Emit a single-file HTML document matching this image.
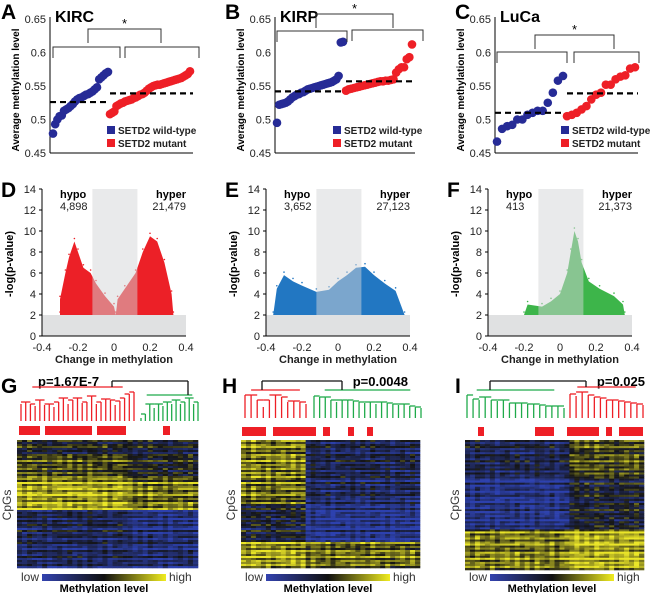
<!DOCTYPE html>
<html><head><meta charset="utf-8"><style>
html,body{margin:0;padding:0;background:#fff;}
svg{display:block;font-family:"Liberation Sans",Arial,sans-serif;}
</style></head><body>
<svg id="fig" width="650" height="593" viewBox="0 0 650 593"></svg>
<script>
// ---------- DATA ----------
const aBlue=[0.479,0.493,0.5,0.505,0.506,0.513,0.515,0.517,0.52,0.523,0.527,0.53,0.532,0.533,0.535,0.537,0.538,0.54,0.542,0.545,0.548,0.56,0.563,0.566,0.569,0.571];
const aRed=[0.508,0.51,0.512,0.52,0.522,0.524,0.525,0.527,0.528,0.529,0.53,0.532,0.533,0.535,0.537,0.538,0.54,0.543,0.546,0.548,0.55,0.551,0.552,0.552,0.553,0.554,0.555,0.556,0.557,0.558,0.559,0.56,0.561,0.562,0.564,0.566,0.568,0.572];
const bBlue=[0.495,0.522,0.523,0.524,0.525,0.527,0.53,0.533,0.535,0.537,0.538,0.54,0.541,0.543,0.545,0.546,0.547,0.548,0.549,0.55,0.551,0.552,0.553,0.554,0.555,0.556,0.558,0.56,0.565,0.615,0.616];
const bRed=[0.543,0.545,0.546,0.547,0.548,0.549,0.55,0.551,0.552,0.553,0.554,0.555,0.556,0.557,0.557,0.558,0.558,0.559,0.56,0.57,0.575,0.578,0.578,0.59,0.593,0.612];
const cBlue=[0.467,0.486,0.49,0.492,0.5,0.5,0.507,0.51,0.513,0.513,0.525,0.54,0.558,0.565];
const cRed=[0.505,0.507,0.51,0.515,0.52,0.53,0.537,0.54,0.552,0.552,0.56,0.564,0.566,0.576,0.578];
const meansA=[0.526,0.539], meansB=[0.542,0.557], meansC=[0.51,0.539];
const yTicks=[0.45,0.5,0.55,0.6,0.65];
const yTickLabels=["0.45","0.5","0.55","0.6","0.65"];
// volcano envelopes: [change, -log p] pairs (top outline of point cloud)
const volD=[[-0.3,2],[-0.3,3.5],[-0.27,6],[-0.25,7.5],[-0.22,9],[-0.2,8],[-0.17,6.5],[-0.13,6],[-0.1,5],[-0.05,3.8],[0,2.8],[0.01,2],[0.02,3.5],[0.06,4.5],[0.12,6],[0.16,8],[0.2,9.5],[0.24,9],[0.28,7],[0.32,4],[0.33,2]];
const volE=[[-0.36,2],[-0.34,4.5],[-0.3,5.8],[-0.25,5.2],[-0.2,4.8],[-0.12,4.2],[-0.05,4.4],[0,5.2],[0.05,5.8],[0.1,6.5],[0.15,6.6],[0.2,5.8],[0.26,5],[0.32,4.3],[0.37,2]];
const volF=[[-0.2,2],[-0.18,3],[-0.1,2.8],[-0.05,3.3],[0,4],[0.04,6],[0.06,8],[0.08,10],[0.1,9],[0.12,7],[0.16,5.2],[0.22,4.5],[0.3,3.8],[0.35,3],[0.36,2]];
const volXTicks=[-0.4,-0.2,0,0.2,0.4], volXLabels=["-0.4","-0.2","0","0.2","0.4"];
const volYTicks=[0,2,4,6,8,10,12,14];
const hypoCounts=["4,898","3,652","413"], hyperCounts=["21,479","27,123","21,373"];
// heatmap band levels: [rowFracEnd, leftLevel, rightLevel]
const hmG=[[0.12,0.45,0.4],[0.3,0.6,0.45],[0.55,0.82,0.7],[0.75,0.3,0.15],[1,0.25,0.2]];
const hmH=[[0.3,0.72,0.3],[0.5,0.68,0.25],[0.8,0.38,0.1],[1,0.8,0.68]];
const hmI=[[0.28,0.3,0.6],[0.68,0.12,0.4],[1,0.72,0.85]];
const rowMod=[0.1,-0.12,0.05,0.15,-0.08,0,-0.15,0.12,0.02,-0.05,0.18,-0.1,0.06,-0.02,0.1,-0.14,0.08,-0.06,0.14,-0.03,-0.18,0.2,-0.09,0.03];
const colMod=[0.04,-0.06,0.08,0,-0.04,0.06,-0.08,0.02,0.05,-0.03,0.07,-0.05];

// ---------- HELPERS ----------
const S=document.getElementById('fig'), NS='http://www.w3.org/2000/svg';
function mk(tag,attrs,parent){const e=document.createElementNS(NS,tag);for(const k in attrs)e.setAttribute(k,attrs[k]);(parent||S).appendChild(e);return e;}
function txt(x,y,s,attrs,parent){const e=mk('text',Object.assign({x:x,y:y},attrs||{}),parent);e.textContent=s;return e;}

// ---------- SCATTER PANELS A-C ----------
function scatterPanel(o){
  const g=mk('g',{});
  
  
  const yS=v=>153-(v-0.45)/0.2*134;
  txt(o.letX,19,o.letter,{'font-size':21,'font-weight':'bold'},g);
  txt(o.ax+5,22,o.title,{'font-size':16,'font-weight':'bold'},g);
  mk('line',{x1:o.ax,y1:17,x2:o.ax,y2:153,stroke:'#000','stroke-width':1},g);
  mk('line',{x1:o.ax,y1:153,x2:o.ax+o.w,y2:153,stroke:'#000','stroke-width':1},g);
  yTicks.forEach((t,i)=>txt(o.ax-4,yS(t)+4,yTickLabels[i],{'font-size':11,'text-anchor':'end',fill:'#222'},g));
  const yl=txt(0,0,'Average methylation level',{'font-size':10,'font-weight':'bold','text-anchor':'middle',transform:`translate(${o.ax-31},90) rotate(-90)`},g);
  
  
  const drawSeries=(arr,x0,x1,col,nm)=>arr.forEach((v,i)=>{
    const c=mk('circle',{cx:x0+(x1-x0)*i/(arr.length-1),cy:yS(v),r:4.3,fill:col},g);
    
    
  });
  drawSeries(o.blue,o.bx0,o.bx1,'#262b96','wild-type-point');
  drawSeries(o.red,o.rx0,o.rx1,'#ee1f26','mutant-point');
  const m1=mk('line',{x1:o.ax,x2:o.bx1+2,y1:yS(o.means[0]),y2:yS(o.means[0]),stroke:'#000','stroke-width':2.2,'stroke-dasharray':'6,4'},g);
  
  
  const m2=mk('line',{x1:o.rx0,x2:o.ax+o.w,y1:yS(o.means[1]),y2:yS(o.means[1]),stroke:'#000','stroke-width':2.2,'stroke-dasharray':'6,4'},g);
  
  
  const br=(x0,x1,y,d)=>mk('path',{d:`M${x0},${y+d}V${y}H${x1}V${y+d}`,fill:'none',stroke:'#333','stroke-width':1},g);
  br(o.L[0],o.L[1],o.L[2],11); br(o.R[0],o.R[1],o.R[2],11); br(o.T[0],o.T[1],o.T[2],14);
  txt((o.T[0]+o.T[1])/2,o.T[2]-1,'*',{'font-size':13,'text-anchor':'middle'},g);
  const lg=mk('g',{},g);
  
  
  mk('rect',{x:o.lx,y:o.ly-4,width:8,height:8,fill:'#262b96'},lg);
  txt(o.lx+11,o.ly+4,'SETD2 wild-type',{'font-size':10,'font-weight':'bold',fill:'#222'},lg);
  mk('rect',{x:o.lx,y:o.ly+9,width:8,height:8,fill:'#ee1f26'},lg);
  txt(o.lx+11,o.ly+17,'SETD2 mutant',{'font-size':10,'font-weight':'bold',fill:'#222'},lg);
}
scatterPanel({name:'panel-a-kirc',letter:'A',letX:1,title:'KIRC',ax:50,w:143,blue:aBlue,red:aRed,bx0:53,bx1:108,rx0:110,rx1:190,means:meansA,L:[53,120,47],R:[125,199,47],T:[88,161,29],lx:107,ly:130});
scatterPanel({name:'panel-b-kirp',letter:'B',letX:225,title:'KIRP',ax:275,w:140,blue:bBlue,red:bRed,bx0:277,bx1:343,rx0:346,rx1:412,means:meansB,L:[277,347,31],R:[352,423,30],T:[316,393,14],lx:333,ly:130});
scatterPanel({name:'panel-c-luca',letter:'C',letX:455,title:'LuCa',ax:495,w:143,blue:cBlue,red:cRed,bx0:497,bx1:563,rx0:567,rx1:635,means:meansC,L:[497,567,52],R:[574,639,52],T:[535,614,35],lx:561,ly:130});

// ---------- VOLCANO PANELS D-F ----------
function volcano(o){
  const g=mk('g',{});
  
  
  const xS=v=>o.ax+(v+0.4)/0.8*144, yS=v=>336-v/14*147;
  txt(o.ax-41,197,o.letter,{'font-size':21,'font-weight':'bold'},g);
  const pts=o.env.map(p=>xS(p[0])+','+yS(p[1])).join(' ');
  const poly=mk('polygon',{points:pts,fill:o.col},g);
  
  
  o.env.forEach(p=>{
    const c=mk('circle',{cx:xS(p[0]),cy:yS(p[1])-3,r:0.8,fill:o.col},g);
    
    
  });
  mk('rect',{x:xS(-0.12),y:yS(14),width:xS(0.13)-xS(-0.12),height:yS(2)-yS(14),fill:'#d4d6d8',opacity:0.5},g);
  mk('rect',{x:o.ax,y:yS(2),width:144,height:yS(0)-yS(2),fill:'#e0e1e2'},g);
  mk('line',{x1:o.ax,y1:yS(14),x2:o.ax,y2:336,stroke:'#000'},g);
  mk('line',{x1:o.ax,y1:336,x2:o.ax+144,y2:336,stroke:'#000'},g);
  volYTicks.forEach(t=>{mk('line',{x1:o.ax-3,x2:o.ax,y1:yS(t),y2:yS(t),stroke:'#000'},g);txt(o.ax-6,yS(t)+4,String(t),{'font-size':11,'text-anchor':'end',fill:'#222'},g);});
  volXTicks.forEach((t,i)=>txt(xS(t),351,volXLabels[i],{'font-size':11,'text-anchor':'middle',fill:'#222'},g));
  txt(o.ax+72,363,'Change in methylation',{'font-size':11,'font-weight':'bold','text-anchor':'middle',fill:'#222'},g);
  txt(0,0,'-log(p-value)',{'font-size':11,'font-weight':'bold','text-anchor':'middle',transform:`translate(${o.ax-29},264) rotate(-90)`},g);
  txt(o.ax+18,198,'hypo',{'font-size':11,'font-weight':'bold'},g);
  txt(o.ax+18,210,o.hypo,{'font-size':11,fill:'#222'},g);
  txt(o.ax+144,198,'hyper',{'font-size':11,'font-weight':'bold','text-anchor':'end'},g);
  txt(o.ax+144,210,o.hyper,{'font-size':11,'text-anchor':'end',fill:'#222'},g);
}
volcano({name:'panel-d-volcano',letter:'D',ax:42,env:volD,col:'#ec2027',hypo:hypoCounts[0],hyper:hyperCounts[0]});
volcano({name:'panel-e-volcano',letter:'E',ax:266,env:volE,col:'#2277c2',hypo:hypoCounts[1],hyper:hyperCounts[1]});
volcano({name:'panel-f-volcano',letter:'F',ax:488,env:volF,col:'#3db54a',hypo:hypoCounts[2],hyper:hyperCounts[2]});

// ---------- HEATMAP PANELS G-I ----------
function hcol(v){v=Math.max(0,Math.min(1,v));
  if(v<0.5){const t=v/0.5;return `rgb(${Math.round(45-25*t)},${Math.round(65-45*t)},${Math.round(175-155*t)})`;}
  const t=(v-0.5)/0.5;return `rgb(${Math.round(20+215*t)},${Math.round(20+210*t)},${Math.round(20+20*t)})`;}
function heatPanel(o){
  const g=mk('g',{});
  
  
  txt(o.letX,393,o.letter,{'font-size':21,'font-weight':'bold'},g);
  txt(o.pX,386,o.p,{'font-size':13,'font-weight':'bold','text-anchor':o.pAnchor},g);
  const dg=mk('g',{},g);
  
  
  const roots=[];
  o.clusters.forEach(c=>{
    const n=c.tops.length, xs=c.tops.map((_,i)=>c.x0+(c.x1-c.x0)*i/(n-1));
    c.tops.forEach((t,i)=>{mk('line',{x1:xs[i],x2:xs[i],y1:o.base,y2:t,stroke:c.col,'stroke-width':1.3},dg);
      if(i<n-1)mk('line',{x1:xs[i],x2:xs[i+1],y1:Math.min(t,c.tops[i+1]),y2:Math.min(t,c.tops[i+1]),stroke:c.col,'stroke-width':1.3},dg);});
    mk('line',{x1:c.x0+(c.x1-c.x0)*0.1,x2:c.x1-(c.x1-c.x0)*0.1,y1:c.top,y2:c.top,stroke:c.col,'stroke-width':1.3},dg);
    mk('line',{x1:c.rootX,x2:c.rootX,y1:c.top,y2:381,stroke:'#111','stroke-width':1.3},dg);
    roots.push(c.rootX);
  });
  mk('line',{x1:roots[0],x2:roots[1],y1:381,y2:381,stroke:'#111','stroke-width':1.3},dg);
  o.bars.forEach(b=>{const r=mk('rect',{x:b[0],y:o.barY,width:b[1]-b[0],height:9,fill:'#ee1f26'},g);
    
    });
  const hm=mk('g',{},g);
  
  
  const rows=64, cols=36, cw=(o.hx1-o.hx0)/cols, rh=(o.hy1-o.hy0)/rows;
  for(let r=0;r<rows;r++){const f=(r+0.5)/rows;const band=o.bands.find(b=>f<=b[0])||o.bands[o.bands.length-1];
    for(let c=0;c<cols;c++){const left=(c+0.5)/cols<o.split;
      const v=(left?band[1]:band[2])+rowMod[r%rowMod.length]*1.1+rowMod[(r*7+c*5)%rowMod.length]*0.6+colMod[c%colMod.length];
      mk('rect',{x:o.hx0+c*cw,y:o.hy0+r*rh,width:cw+0.3,height:rh+0.3,fill:hcol(v)},hm);}}
  txt(0,0,'CpGs',{'font-size':12,'text-anchor':'middle',fill:'#333',transform:`translate(${o.hx0-6},505) rotate(-90)`},g);
  const id='cb'+o.letter;
  const gr=mk('linearGradient',{id:id},mk('defs',{},g));
  [[0,'#3343b0'],[0.5,'#111'],[1,'#f0ec20']].forEach(s=>mk('stop',{offset:s[0],'stop-color':s[1]},gr));
  const cb=mk('rect',{x:o.hx0+25,y:574,width:124,height:7,fill:`url(#${id})`},g);
  
  
  txt(o.hx0+22,581,'low',{'font-size':12,'text-anchor':'end',fill:'#333'},g);
  txt(o.hx0+152,581,'high',{'font-size':12,fill:'#333'},g);
  txt(o.hx0+87,592,'Methylation level',{'font-size':11,'font-weight':'bold','text-anchor':'middle'},g);
}
heatPanel({name:'panel-g-kirc-heatmap',letter:'G',letX:1,p:'p=1.67E-7',pX:38,pAnchor:'start',base:421,barY:426,
  clusters:[{col:'#ee1f26',x0:21,x1:134,top:387,rootX:112,tops:[404,402,404,406,400,405,404,407,402,398,404,400,398,403,402,396,404,402,399,400,405,401,398,394,392]},
            {col:'#1faa4a',x0:141,x1:198,top:395,rootX:188,tops:[418,414,404,408,404,406,402,404,400,404,402,398,404,402]}],
  bars:[[19,40],[45,92],[97,126],[163,170]],hx0:17,hx1:198,hy0:440,hy1:568,bands:hmG,split:0.62});
heatPanel({name:'panel-h-kirp-heatmap',letter:'H',letX:222,p:'p=0.0048',pX:408,pAnchor:'end',base:418,barY:427,
  clusters:[{col:'#ee1f26',x0:245,x1:306,top:390,rootX:262,tops:[395,395,400,407,400,395,397,402,401,402,404]},
            {col:'#1faa4a',x0:314,x1:421,top:390,rootX:342,tops:[396,397,397,400,402,400,400,401,402,403,402,404,402,403,404,405,404,406,407,408]}],
  bars:[[242,266],[273,316],[323,330],[348,354],[367,373]],hx0:241,hx1:420,hy0:440,hy1:568,bands:hmH,split:0.37});
heatPanel({name:'panel-i-luca-heatmap',letter:'I',letX:455,p:'p=0.025',pX:645,pAnchor:'end',base:418,barY:427,
  clusters:[{col:'#1faa4a',x0:467,x1:564,top:390,rootX:490,tops:[395,399,400,397,400,401,400,403,403,403,404,404,405,406,406,406,408]},
            {col:'#ee1f26',x0:570,x1:643,top:387,rootX:586,tops:[394,396,392,395,397,398,400,400,401,402,403,404,405]}],
  bars:[[478,484],[535,554],[567,599],[606,612],[619,643]],hx0:465,hx1:644,hy0:440,hy1:570,bands:hmI,split:0.57});
</script>
</body></html>
